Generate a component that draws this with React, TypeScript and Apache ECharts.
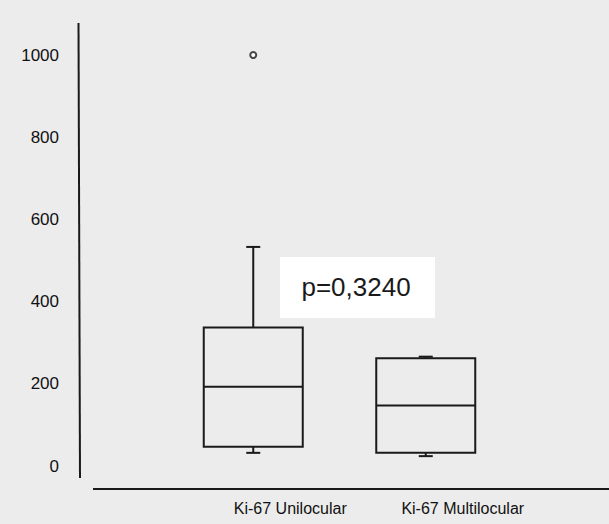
import React, { useEffect, useRef } from "react";
import * as echarts from "echarts";

const categories = ["Ki-67 Unilocular", "Ki-67 Multilocular"];
// [min, Q1, median, Q3, max]
const boxValues = [
  [32, 47, 193, 337, 533],
  [24, 32, 147, 262, 266],
];
const outliers = [[0, 1000]];
const yTicks = [0, 200, 400, 600, 800, 1000];
const pLabel = "p=0,3240";

export default function App() {
  const ref = useRef<HTMLDivElement>(null);
  useEffect(() => {
    const chart = echarts.init(ref.current!, null, { renderer: "svg" });
    const font = "'Liberation Sans', Arial, sans-serif";
    const ink = "#1a1a1a";
    const boxData = boxValues.map((b, i) => [i, ...b]);
    chart.setOption({
      animation: false,
      backgroundColor: "#ececec",
      grid: { left: 167, right: 609 - 512, top: 55, bottom: 524 - 466 },
      xAxis: {
        type: "category",
        data: categories,
        axisLine: { show: false },
        axisTick: { show: false },
        splitLine: { show: false },
        axisLabel: {
          interval: 0,
          margin: 34,
          color: "#111111",
          fontFamily: font,
          fontSize: 16,
          formatter: (v: string) => "{a|" + v + "}",
          rich: { a: { padding: [0, 0, 0, 74], fontSize: 16, fontFamily: font, color: "#111111" } },
        },
      },
      yAxis: {
        type: "value",
        min: yTicks[0],
        max: yTicks[yTicks.length - 1],
        interval: 200,
        axisLine: { show: false },
        axisTick: { show: false },
        splitLine: { show: false },
        axisLabel: {
          margin: 108,
          color: "#111111",
          fontFamily: font,
          fontSize: 17,
          formatter: (v: number) => String(v),
        },
      },
      graphic: [
        { type: "line", shape: { x1: 78.5, y1: 23, x2: 80, y2: 478 }, style: { stroke: ink, lineWidth: 2 } },
        { type: "line", shape: { x1: 93, y1: 489, x2: 609, y2: 489 }, style: { stroke: ink, lineWidth: 2 } },
        { type: "rect", shape: { x: 280, y: 257, width: 155, height: 61 }, style: { fill: "#ffffff" } },
        {
          type: "text",
          x: 356,
          y: 287,
          style: { text: pLabel, font: "26px " + font, fill: ink, textAlign: "center", textVerticalAlign: "middle" },
        },
      ],
      series: [
        {
          type: "custom",
          data: boxData,
          encode: { x: 0, y: [1, 2, 3, 4, 5] },
          renderItem: (params: any, api: any) => {
            const c = api.value(0);
            const pMin = api.coord([c, api.value(1)]);
            const pQ1 = api.coord([c, api.value(2)]);
            const pMed = api.coord([c, api.value(3)]);
            const pQ3 = api.coord([c, api.value(4)]);
            const pMax = api.coord([c, api.value(5)]);
            const x = pMed[0];
            const hw = 49.5;
            const cw = 7;
            const st = { stroke: ink, lineWidth: 2, fill: "none" };
            return {
              type: "group",
              children: [
                { type: "line", shape: { x1: x, y1: pQ3[1], x2: x, y2: pMax[1] }, style: st },
                { type: "line", shape: { x1: x - cw, y1: pMax[1], x2: x + cw, y2: pMax[1] }, style: st },
                { type: "line", shape: { x1: x, y1: pQ1[1], x2: x, y2: pMin[1] }, style: st },
                { type: "line", shape: { x1: x - cw, y1: pMin[1], x2: x + cw, y2: pMin[1] }, style: st },
                { type: "rect", shape: { x: x - hw, y: pQ3[1], width: 2 * hw, height: pQ1[1] - pQ3[1] }, style: st },
                { type: "line", shape: { x1: x - hw, y1: pMed[1], x2: x + hw, y2: pMed[1] }, style: st },
              ],
            };
          },
        },
        {
          type: "scatter",
          data: outliers,
          symbol: "emptyCircle",
          symbolSize: 6,
          itemStyle: { color: ink, borderColor: ink, borderWidth: 1.5 },
          clip: false,
        },
      ],
    });
    return () => chart.dispose();
  }, []);
  return <div ref={ref} style={{ width: 609, height: 524, position: "absolute", left: 0, top: 0 }} />;
}
